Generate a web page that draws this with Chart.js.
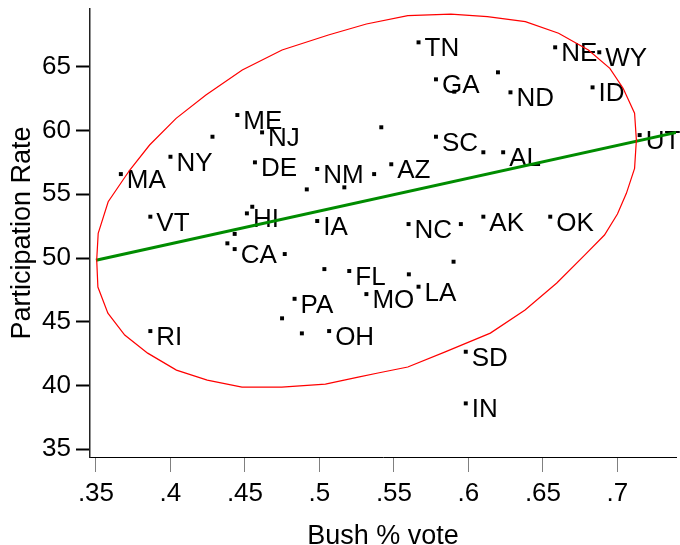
<!DOCTYPE html>
<html>
<head>
<meta charset="utf-8">
<style>
  html, body { margin: 0; padding: 0; background: #fff; }
</style>
</head>
<body>
<canvas id="chart" width="680" height="545"></canvas>
<script src="https://cdn.jsdelivr.net/npm/chart.js@4.4.0/dist/chart.umd.min.js"></script>
<script>
// states (empty string = unlabeled marker)
const states = [
  "ME", "NJ", "", "NY", "MA", "DE", "NM", "", "", "", "",
  "VT", "", "HI", "IA", "", "", "CA", "", "", "FL", "MO", "PA", "", "", "OH", "RI",
  "TN", "GA", "", "", "ND", "NE", "WY", "ID", "UT", "SC", "", "AL", "AZ",
  "NC", "", "AK", "OK", "", "", "LA", "SD", "IN",
];
const bushVote = [
  0.4449, 0.4615, 0.4282, 0.400, 0.3667, 0.4567, 0.4985, 0.4915, 0.5167, 0.5367, 0.5415,
  0.3865, 0.4549, 0.4513, 0.4985, 0.4431, 0.4382, 0.4431, 0.4767, 0.5033, 0.520, 0.5315, 0.4833, 0.4749, 0.4882, 0.5065, 0.3865,
  0.5665, 0.5782, 0.5905, 0.6198, 0.6282, 0.6582, 0.6878, 0.6833, 0.7149, 0.5782, 0.610, 0.6233, 0.5482,
  0.5598, 0.5949, 0.610, 0.6549, 0.590, 0.560, 0.5665, 0.5982, 0.5982,
];
const partRate = [
  61.21, 59.85, 59.51, 57.94, 56.58, 57.50, 56.98, 55.38, 55.54, 56.58, 60.25,
  53.24, 54.02, 53.50, 52.90, 51.89, 51.15, 50.70, 50.31, 49.13, 48.98, 47.17, 46.80, 45.27, 44.09, 44.27, 44.27,
  66.91, 64.01, 63.04, 64.56, 62.99, 66.52, 66.13, 63.38, 59.64, 59.51, 58.29, 58.29, 57.35,
  52.66, 52.66, 53.24, 53.24, 49.71, 48.72, 47.75, 42.65, 38.60,
];

// linear fit endpoints
const fitX = [0.35, 0.74];
const fitY = [49.83, 59.86];

// red ellipse outline
const ellipseX = [
  0.3505, 0.3515, 0.3582, 0.3727, 0.3860, 0.4038, 0.4238, 0.4482, 0.4749, 0.5060, 0.5315,
  0.5593, 0.5882, 0.6127, 0.6382, 0.6605, 0.6805, 0.6949, 0.7038, 0.7115, 0.7127, 0.7115,
  0.7060, 0.7000, 0.6913, 0.6780, 0.6593, 0.6380, 0.6147, 0.5840, 0.5593, 0.5393, 0.5260,
  0.5040, 0.4747, 0.4480, 0.4247, 0.4040, 0.3847, 0.3693, 0.3580, 0.3513, 0.3505,
];
const ellipseY = [
  49.84, 51.93, 54.41, 56.90, 58.86, 60.95, 62.78, 64.74, 66.31, 67.49, 68.35,
  69.00, 69.13, 68.92, 68.53, 67.62, 66.31, 64.87, 63.31, 61.35, 59.25, 57.03,
  55.07, 53.45, 51.80, 50.23, 48.04, 45.92, 44.11, 42.62, 41.45, 40.98, 40.66,
  40.11, 39.88, 39.88, 40.43, 41.21, 42.54, 43.96, 45.68, 47.72, 49.84,
];

const xTicks = [0.35, 0.4, 0.45, 0.5, 0.55, 0.6, 0.65, 0.7];
const xTickLabels = [".35", ".4", ".45", ".5", ".55", ".6", ".65", ".7"];
const yTicks = [35, 40, 45, 50, 55, 60, 65];

const FONT = '"Liberation Sans", Arial, sans-serif';

const toPoints = (xs, ys) => xs.map((v, i) => ({ x: v, y: ys[i] }));

// state abbreviations to the right of each marker, under the lines
const stateLabels = {
  id: "stateLabels",
  beforeDatasetsDraw(chart) {
    const { ctx, scales } = chart;
    ctx.save();
    ctx.font = "26px " + FONT;
    ctx.fillStyle = "#000";
    ctx.textBaseline = "alphabetic";
    states.forEach((s, i) => {
      if (!s) return;
      const px = scales.x.getPixelForValue(bushVote[i]);
      const py = scales.y.getPixelForValue(partRate[i]);
      ctx.fillText(s, px + 6, py + 14);
    });
    ctx.restore();
  },
};

new Chart(document.getElementById("chart"), {
  type: "scatter",
  data: {
    datasets: [
      {
        data: toPoints(ellipseX, ellipseY),
        showLine: true,
        borderColor: "#ff0000",
        borderWidth: 1.2,
        pointRadius: 0,
        tension: 0,
      },
      {
        data: toPoints(fitX, fitY),
        showLine: true,
        borderColor: "#008c00",
        borderWidth: 3,
        pointRadius: 0,
      },
      {
        data: toPoints(bushVote, partRate),
        pointStyle: "rect",
        pointRadius: 2.8,
        backgroundColor: "#000",
        borderWidth: 0,
      },
    ],
  },
  options: {
    responsive: false,
    animation: false,
    devicePixelRatio: 1,
    layout: { padding: { top: 9, right: 0, left: 0, bottom: 0 } },
    plugins: {
      legend: { display: false },
      tooltip: { enabled: false },
    },
    scales: {
      x: {
        type: "linear",
        min: 0.346,
        max: 0.7393,
        afterFit: (s) => {
          s.height = 88;
          s.paddingLeft = 0;
          s.paddingRight = 0;
        },
        afterBuildTicks: (s) => { s.ticks = xTicks.map((v) => ({ value: v })); },
        ticks: {
          padding: 6,
          color: "#000",
          font: { family: FONT, size: 26 },
          callback: (v) => xTickLabels[xTicks.indexOf(v)],
          maxRotation: 0,
        },
        grid: {
          drawOnChartArea: false,
          tickLength: 15,
          tickColor: "#808080",
          tickWidth: 1,
        },
        border: { color: "#000", width: 1 },
        title: {
          display: true,
          text: "Bush % vote",
          color: "#000",
          font: { family: FONT, size: 27, lineHeight: 1 },
          padding: { top: 0, bottom: -5 },
        },
      },
      y: {
        type: "linear",
        min: 34.396,
        max: 69.525,
        afterFit: (s) => {
          s.width = 90;
          s.paddingTop = 0;
          s.paddingBottom = 0;
        },
        afterBuildTicks: (s) => { s.ticks = yTicks.map((v) => ({ value: v })); },
        ticks: {
          padding: 5,
          color: "#000",
          font: { family: FONT, size: 26 },
        },
        grid: {
          drawOnChartArea: false,
          tickLength: 14,
          tickColor: "#000",
          tickWidth: 2,
        },
        border: { color: "#222", width: 1.5 },
        title: {
          display: true,
          text: "Participation Rate",
          color: "#000",
          font: { family: FONT, size: 27, lineHeight: 1.2 },
          padding: { top: 6, bottom: 0 },
        },
      },
    },
  },
  plugins: [stateLabels],
});
</script>
</body>
</html>
